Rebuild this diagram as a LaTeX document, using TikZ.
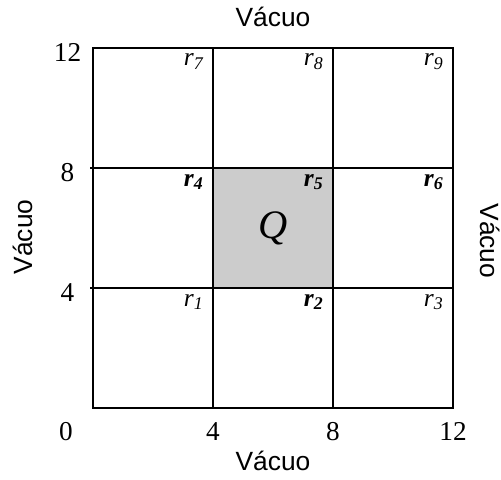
\documentclass[tikz,border=0pt]{standalone}
\usepackage{fontspec}
\setmainfont{Liberation Serif}
\newfontfamily\vacfont{Liberation Sans}
\usetikzlibrary{positioning}

\begin{document}
\begin{tikzpicture}[
  x=0.6cm, y=0.6cm,
  gridline/.style={line width=1.1pt, line cap=rect},
  qcell/.style={fill=black!20},
  numlbl/.style={font=\fontsize{15.5}{18}\selectfont, inner sep=0pt},
  vaclbl/.style={font=\vacfont\fontsize{15}{18}\selectfont, inner sep=0pt, anchor=base},
  rlbl/.style={font=\fontsize{14.5}{17}\selectfont\itshape, inner sep=0pt, anchor=base east},
  rbold/.style={rlbl, font=\fontsize{14.5}{17}\selectfont\bfseries\itshape},
  qlbl/.style={font=\fontsize{23}{26}\selectfont\itshape, inner sep=0pt}
]
\useasboundingbox (-3.1,-2.367) rectangle (13.6,13.6);

% shaded cell and the grid
\fill[qcell] (4,4) rectangle (8,8);
\draw[gridline] (0,0) grid[step=4] (12,12);
\draw[line width=1.1pt] (-0.1,4) -- (0,4) (-0.1,8) -- (0,8);

% axis numbers
\foreach \v in {4,8,12}
  \node[numlbl] (y\v) at (-0.85,\v-0.15) {\v};
\node[numlbl] (x0) at (-0.9,-0.77) {0};
\foreach \v in {4,8,12}
  \node[numlbl] (x\v) at (\v,-0.77) {\v};

% vacuum labels
\node[vaclbl] (vtop) at (6,12.73) {Vácuo};
\node[vaclbl] (vbot) at (6,-2.07) {Vácuo};
\node[vaclbl, rotate=90] (vleft) at (-2.0,5.7) {Vácuo};
\node[vaclbl, rotate=-90] (vright) at (12.9,5.57) {Vácuo};

% region labels
\node[rlbl] (r1) at (3.7,3.4) {r\textsubscript{1}};
\node[rbold] (r2) at (7.7,3.4) {r\textsubscript{2}};
\node[rlbl] (r3) at (11.7,3.4) {r\textsubscript{3}};
\node[rbold] (r4) at (3.7,7.4) {r\textsubscript{4}};
\node[rbold] (r5) at (7.7,7.4) {r\textsubscript{5}};
\node[rbold] (r6) at (11.7,7.4) {r\textsubscript{6}};
\node[rlbl] (r7) at (3.7,11.4) {r\textsubscript{7}};
\node[rlbl] (r8) at (7.7,11.4) {r\textsubscript{8}};
\node[rlbl] (r9) at (11.7,11.4) {r\textsubscript{9}};

\node[qlbl] (q) at (6,6) {Q};
\end{tikzpicture}
\end{document}
